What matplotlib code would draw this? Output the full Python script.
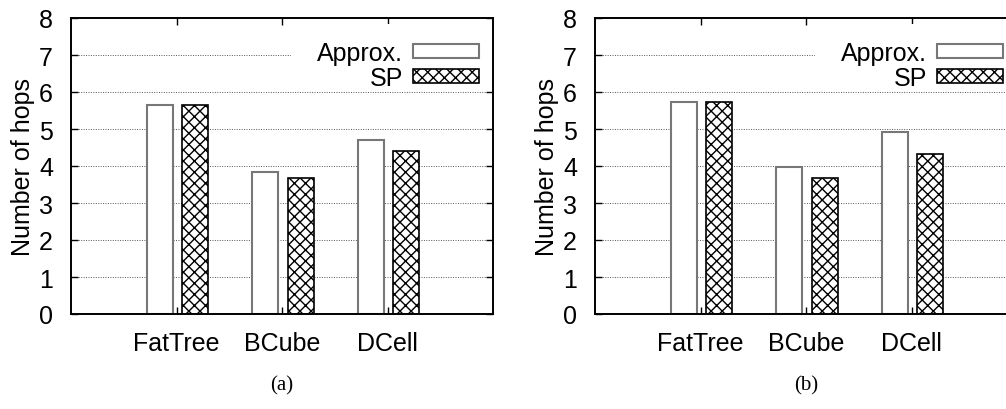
import matplotlib
matplotlib.use("Agg")
import matplotlib.pyplot as plt
from matplotlib.patches import Rectangle
import numpy as np

categories = ["FatTree", "BCube", "DCell"]
approx_a = [5.65, 3.84, 4.70]
sp_a = [5.65, 3.67, 4.40]
approx_b = [5.73, 3.98, 4.92]
sp_b = [5.73, 3.67, 4.32]
yticks = [0, 1, 2, 3, 4, 5, 6, 7, 8]
series_labels = ["Approx.", "SP"]
captions = ["(a)", "(b)"]

plt.rcParams['font.family'] = ['Liberation Sans', 'DejaVu Sans']
plt.rcParams['hatch.linewidth'] = 1.0
plt.rcParams['hatch.color'] = 'black'

W, H = 1006, 410
fig = plt.figure(figsize=(W / 100, H / 100), dpi=100)

FS = 18
AX_W, AX_H, AX_BOT = 422, 296, 315


def panel(left_px, approx, sp, caption):
    ax = fig.add_axes([left_px / W, (H - AX_BOT) / H, AX_W / W, AX_H / H])
    x = np.arange(1, len(categories) + 1)
    bw = 0.247
    ax.bar(x - 0.157, approx, width=bw, facecolor='white', edgecolor='#777777',
           linewidth=1.5, label=series_labels[0], zorder=3)
    ax.bar(x + 0.177, sp, width=bw, facecolor='white', edgecolor='black',
           hatch='xxx', linewidth=1.2, label=series_labels[1], zorder=3)
    ax.set_xlim(0, 4)
    ax.set_ylim(0, 8)
    ax.set_yticks(yticks)
    ax.set_xticks(x)
    ax.set_xticklabels(categories, fontsize=FS)
    ax.tick_params(axis='both', direction='in', length=5, width=1,
                   top=True, right=True, labelsize=FS)
    ax.tick_params(axis='x', pad=12)
    ax.tick_params(axis='y', pad=13)
    for y in yticks[1:-1]:
        ax.axhline(y, color='#555555', linestyle=(0, (1, 1.5)), linewidth=0.7, zorder=1)
    for s in ax.spines.values():
        s.set_linewidth(1.4)
        s.set_zorder(6)
    ax.set_ylabel("Number of hops", fontsize=FS, labelpad=3)
    # white key background (as drawn by gnuplot) hiding the grid behind the key
    kx0 = 220 / AX_W
    ky0 = (AX_BOT - 88) / AX_H
    ax.add_patch(Rectangle((kx0, ky0), 1 - kx0, (88 - 25) / AX_H,
                           transform=ax.transAxes, facecolor='white',
                           edgecolor='none', zorder=2))
    leg = ax.legend(loc='upper right',
                    bbox_to_anchor=(413 / AX_W, (AX_BOT - 37) / AX_H),
                    frameon=False, markerfirst=False, fontsize=FS,
                    handlelength=2.64, handleheight=0.52,
                    labelspacing=0.04, handletextpad=0.4, borderpad=0.2,
                    borderaxespad=0.0)
    leg.set_zorder(5)
    fig.text((left_px + AX_W / 2) / W, 1 - 386 / H, caption, ha='center', va='center',
             fontsize=15, family=['Liberation Serif', 'DejaVu Serif'])
    return ax


panel(71, approx_a, sp_a, captions[0])
panel(595, approx_b, sp_b, captions[1])

fig.savefig("out.png", dpi=100)
